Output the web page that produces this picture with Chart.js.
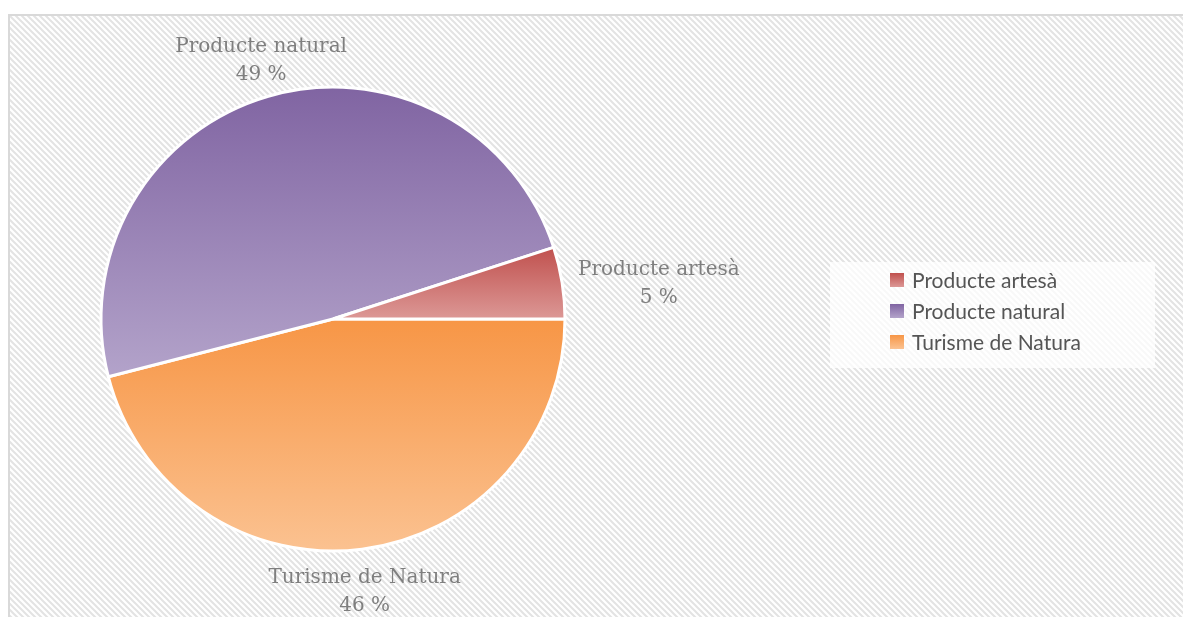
<!DOCTYPE html>
<html>
<head>
<meta charset="utf-8">
<script src="https://cdn.jsdelivr.net/npm/chart.js@4/dist/chart.umd.min.js"></script>
<style>
  html, body { margin: 0; padding: 0; background: #ffffff; }
  #wrap { position: relative; width: 1183px; height: 617px; }
  canvas { display: block; }
</style>
</head>
<body>
<div id="wrap"><canvas id="c" width="1183" height="617"></canvas></div>
<script>
// ---- data (legend order) ----
const categories = ['Producte artesà', 'Producte natural', 'Turisme de Natura'];
const values = [5, 49, 46];
const topColors = ['#c0504d', '#8064a2', '#f79646'];
const bottomColors = ['#dc9896', '#b3a3ca', '#fbc291'];

// Excel draws the slices counter-clockwise from 3 o'clock; Chart.js draws clockwise,
// so the dataset is fed in reverse order and the legend is shown in the original order.
const drawOrder = categories.map((_, i) => categories.length - 1 - i);
const drawLabels = drawOrder.map(i => categories[i]);
const drawValues = drawOrder.map(i => values[i]);
const drawTop = drawOrder.map(i => topColors[i]);
const drawBottom = drawOrder.map(i => bottomColors[i]);

const ROTATION = 90; // start at 3 o'clock

function sliceYRange(chart, idx) {
  const a = chart.chartArea;
  const cy = (a.top + a.bottom) / 2;
  const r = Math.min(a.right - a.left, a.bottom - a.top) / 2;
  const total = drawValues.reduce((s, v) => s + v, 0);
  let start = (ROTATION - 90) * Math.PI / 180;
  for (let i = 0; i < idx; i++) start += drawValues[i] / total * 2 * Math.PI;
  const end = start + drawValues[idx] / total * 2 * Math.PI;
  const ys = [cy, cy + r * Math.sin(start), cy + r * Math.sin(end)];
  for (let k = -4; k <= 4; k++) {
    const t = Math.PI / 2 + k * Math.PI;
    if (t > start && t < end) ys.push(cy + r * Math.sin(t));
  }
  return [Math.min(...ys), Math.max(...ys)];
}

function sliceFill(context) {
  const chart = context.chart;
  const i = context.dataIndex;
  if (!chart.chartArea) return drawTop[i];
  const [y0, y1] = sliceYRange(chart, i);
  const g = chart.ctx.createLinearGradient(0, y0, 0, y1);
  g.addColorStop(0, drawTop[i]);
  g.addColorStop(1, drawBottom[i]);
  return g;
}

function makePattern() {
  const p = document.createElement('canvas');
  const s = 6;
  p.width = s; p.height = s;
  const c = p.getContext('2d');
  c.fillStyle = '#ffffff';
  c.fillRect(0, 0, s, s);
  c.strokeStyle = '#e3e3e3';
  c.lineWidth = 2;
  c.beginPath();
  c.moveTo(-s, 0); c.lineTo(s * 2, s * 3);
  c.moveTo(-s, -s); c.lineTo(s * 2, s * 2);
  c.moveTo(0, -s); c.lineTo(s * 2, s);
  c.stroke();
  return p;
}

const backgroundPlugin = {
  id: 'frameBg',
  beforeDraw(chart) {
    const ctx = chart.ctx;
    ctx.save();
    ctx.fillStyle = '#ffffff';
    ctx.fillRect(0, 0, chart.width, chart.height);
    const pat = ctx.createPattern(makePattern(), 'repeat');
    ctx.fillStyle = pat;
    ctx.fillRect(9, 15, chart.width - 9, chart.height - 15);
    ctx.strokeStyle = '#d9d9d9';
    ctx.lineWidth = 2;
    ctx.beginPath();
    ctx.moveTo(9, chart.height);
    ctx.lineTo(9, 15);
    ctx.lineTo(chart.width, 15);
    ctx.stroke();
    ctx.restore();
  }
};

const labelPlugin = {
  id: 'outLabels',
  afterDatasetsDraw(chart) {
    const ctx = chart.ctx;
    const meta = chart.getDatasetMeta(0);
    const total = drawValues.reduce((s, v) => s + v, 0);
    const lineH = 28;
    ctx.save();
    ctx.font = '20px "DejaVu Serif", serif';
    ctx.fillStyle = '#7f7f7f';
    ctx.textAlign = 'center';
    ctx.textBaseline = 'middle';
    meta.data.forEach((arc, i) => {
      const mid = (arc.startAngle + arc.endAngle) / 2;
      const cs = Math.cos(mid), sn = Math.sin(mid);
      const R = arc.outerRadius;
      const pct = Math.round(drawValues[i] / total * 100) + ' %';
      const w = Math.max(ctx.measureText(drawLabels[i]).width, ctx.measureText(pct).width);
      const h = lineH * 2;
      const x = arc.x + cs * (R + 19) + Math.pow(cs, 3) * w / 2;
      const y = arc.y + sn * (R + 12) + sn * h / 2 + 3 + 4 * cs * cs;
      ctx.fillText(drawLabels[i], x, y - lineH / 2);
      ctx.fillText(pct, x, y + lineH / 2);
    });
    ctx.restore();
  }
};

const legendPlugin = {
  id: 'boxLegend',
  afterDraw(chart) {
    const ctx = chart.ctx;
    ctx.save();
    ctx.fillStyle = 'rgba(255,255,255,0.75)';
    ctx.fillRect(830, 262, 325, 106);
    ctx.font = '21px Lato, "Liberation Sans", sans-serif';
    ctx.textBaseline = 'middle';
    ctx.textAlign = 'left';
    categories.forEach((name, i) => {
      const cy = 280 + i * 31;
      const g = ctx.createLinearGradient(0, cy - 7, 0, cy + 7);
      g.addColorStop(0, topColors[i]);
      g.addColorStop(1, bottomColors[i]);
      ctx.fillStyle = g;
      ctx.fillRect(890, cy - 7, 14, 14);
      ctx.fillStyle = '#555555';
      ctx.fillText(name, 912, cy + 1);
    });
    ctx.restore();
  }
};

new Chart(document.getElementById('c'), {
  type: 'pie',
  data: {
    labels: drawLabels,
    datasets: [{
      data: drawValues,
      backgroundColor: sliceFill,
      borderColor: '#ffffff',
      borderWidth: 3
    }]
  },
  options: {
    responsive: false,
    animation: false,
    rotation: ROTATION,
    layout: { padding: { left: 99.5, right: 616.5, top: 85.5, bottom: 64.5 } },
    plugins: {
      legend: { display: false },
      tooltip: { enabled: false }
    }
  },
  plugins: [backgroundPlugin, labelPlugin, legendPlugin]
});
</script>
</body>
</html>
